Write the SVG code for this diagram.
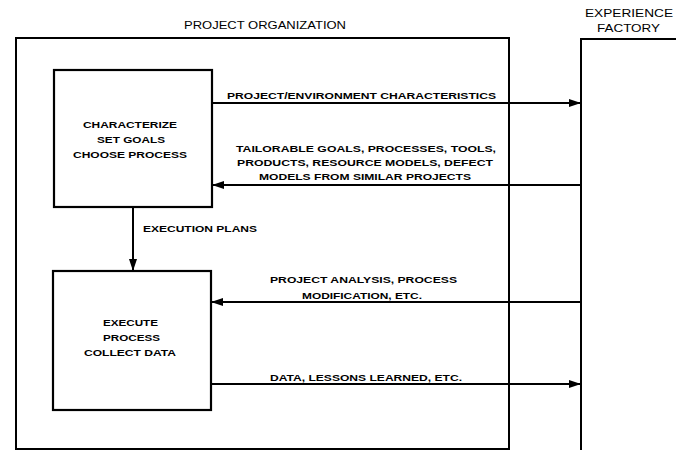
<svg xmlns="http://www.w3.org/2000/svg" width="676" height="450" viewBox="0 0 676 450">
<defs>
<marker id="ah" markerWidth="12" markerHeight="8" refX="12" refY="4" orient="auto" markerUnits="userSpaceOnUse">
<path d="M0,0 L12,4 L0,8 Z" fill="#000"/>
</marker>
<style>
.ln{stroke:#000;stroke-width:2;fill:none}
.bx{stroke:#000;stroke-width:2.2;fill:#fff}
.t{font-family:"Liberation Sans",Arial,sans-serif;font-weight:bold;font-size:9.5px;fill:#000}
.h{font-family:"Liberation Sans",Arial,sans-serif;font-size:11px;fill:#000}
</style>
</defs>
<rect width="676" height="450" fill="#fff"/>
<g id="project-organization">
<rect class="ln" x="16" y="38" width="493" height="411"/>
<text class="h" x="184" y="29" textLength="162" lengthAdjust="spacingAndGlyphs">PROJECT ORGANIZATION</text>
</g>
<g id="experience-factory">
<path class="ln" d="M581,450 L581,39 L676,39"/>
<text class="h" x="585" y="17" textLength="88" lengthAdjust="spacingAndGlyphs">EXPERIENCE</text>
<text class="h" x="597" y="32" textLength="63" lengthAdjust="spacingAndGlyphs">FACTORY</text>
</g>
<g id="characterize">
<rect class="bx" x="54" y="70" width="158" height="137"/>
<text class="t" x="83" y="127.5" textLength="94" lengthAdjust="spacingAndGlyphs">CHARACTERIZE</text>
<text class="t" x="97" y="142.5" textLength="68" lengthAdjust="spacingAndGlyphs">SET GOALS</text>
<text class="t" x="73" y="157.5" textLength="114" lengthAdjust="spacingAndGlyphs">CHOOSE PROCESS</text>
</g>
<g id="execute">
<rect class="bx" x="53" y="271" width="158" height="139"/>
<text class="t" x="103" y="325.5" textLength="55" lengthAdjust="spacingAndGlyphs">EXECUTE</text>
<text class="t" x="103" y="340.5" textLength="57" lengthAdjust="spacingAndGlyphs">PROCESS</text>
<text class="t" x="84" y="355.5" textLength="92" lengthAdjust="spacingAndGlyphs">COLLECT DATA</text>
</g>
<g id="connectors">
<line class="ln" x1="212" y1="103" x2="581" y2="103" marker-end="url(#ah)"/>
<line class="ln" x1="581" y1="185" x2="212" y2="185" marker-end="url(#ah)"/>
<line class="ln" x1="133" y1="207" x2="133" y2="271" marker-end="url(#ah)"/>
<line class="ln" x1="581" y1="302" x2="211" y2="302" marker-end="url(#ah)"/>
<line class="ln" x1="211" y1="384" x2="581" y2="384" marker-end="url(#ah)"/>
<text class="t" x="227" y="98.5" textLength="269" lengthAdjust="spacingAndGlyphs">PROJECT/ENVIRONMENT CHARACTERISTICS</text>
<text class="t" x="236" y="151.5" textLength="260" lengthAdjust="spacingAndGlyphs">TAILORABLE GOALS, PROCESSES, TOOLS,</text>
<text class="t" x="237" y="165.5" textLength="256" lengthAdjust="spacingAndGlyphs">PRODUCTS, RESOURCE MODELS, DEFECT</text>
<text class="t" x="259" y="179.5" textLength="212" lengthAdjust="spacingAndGlyphs">MODELS FROM SIMILAR PROJECTS</text>
<text class="t" x="143" y="231.5" textLength="114" lengthAdjust="spacingAndGlyphs">EXECUTION PLANS</text>
<text class="t" x="270" y="282.5" textLength="187" lengthAdjust="spacingAndGlyphs">PROJECT ANALYSIS, PROCESS</text>
<text class="t" x="302" y="298.5" textLength="120" lengthAdjust="spacingAndGlyphs">MODIFICATION, ETC.</text>
<text class="t" x="270" y="380.5" textLength="192" lengthAdjust="spacingAndGlyphs">DATA, LESSONS LEARNED, ETC.</text>
</g>
</svg>
